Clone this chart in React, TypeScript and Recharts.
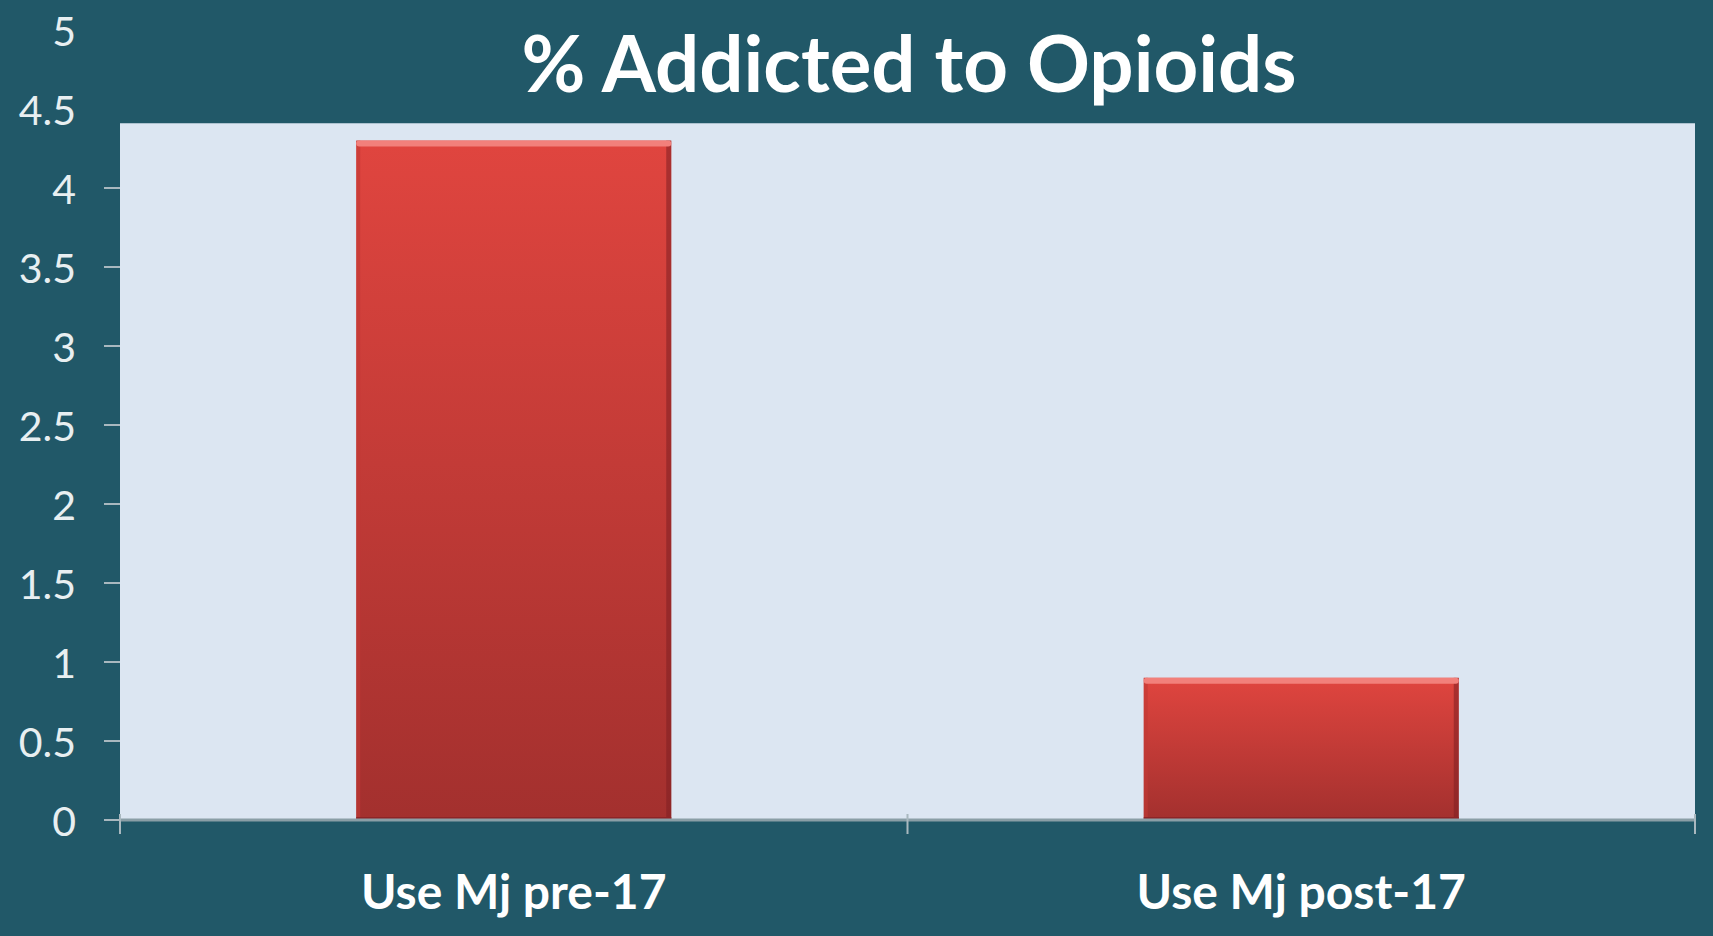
import { BarChart, Bar, XAxis, YAxis, ReferenceArea } from 'recharts';

const categories = ['Use Mj pre-17', 'Use Mj post-17'];
const addictedPct = [4.3, 0.9];
const yTicks = [0, 0.5, 1, 1.5, 2, 2.5, 3, 3.5, 4, 4.5, 5];

const data = categories.map((name, i) => ({ name, value: addictedPct[i] }));

const W = 1713;
const H = 936;
const BG = '#215868';
const PLOT_BG = '#dce6f2';
const PLOT_TOP_VALUE = 4.41; // grey panel stops a bit under 4.5
const MARGIN = { top: 30, right: 18, left: 0, bottom: 16 };
const Y_WIDTH = 120;
const X_HEIGHT = 100;
const PLOT_W = W - MARGIN.left - MARGIN.right - Y_WIDTH;
const HALF_BAND = PLOT_W / categories.length / 2;
const FONT = 'Lato, "Open Sans", sans-serif';

// y ticks: label plus a short tick line only inside the grey panel
// (x here is axis x minus the default 8px offset)
const YTick = (props: any) => {
  const { x, y, payload } = props;
  const showLine = payload.value <= PLOT_TOP_VALUE;
  return (
    <g>
      {showLine && <line x1={x - 8} x2={x + 8} y1={y} y2={y} stroke="#a9b8bf" strokeWidth={2} />}
      <text x={x - 36} y={y} textAnchor="end" dominantBaseline="central" fill="#e8eff1" fontSize={41} fontFamily={FONT}>
        {payload.value}
      </text>
    </g>
  );
};

// x ticks: tick marks sit on the category boundaries, labels at centre
const XTick = (props: any) => {
  const { x, y, payload, index } = props;
  const axisY = y - 14;
  return (
    <g>
      <line x1={x - HALF_BAND} x2={x - HALF_BAND} y1={axisY} y2={axisY + 20} stroke="#a9b8bf" strokeWidth={2} />
      {index === categories.length - 1 && (
        <line x1={x + HALF_BAND} x2={x + HALF_BAND} y1={axisY} y2={axisY + 20} stroke="#a9b8bf" strokeWidth={2} />
      )}
      <text x={x} y={axisY + 76} textAnchor="middle" dominantBaseline="central" fill="#ffffff" fontSize={48} fontWeight={700} fontFamily={FONT}>
        {payload.value}
      </text>
    </g>
  );
};

const BevelBar = (props: any) => {
  const { x, y, width, height } = props;
  if (!height || height <= 0) return null;
  return (
    <g>
      <rect x={x} y={y} width={width} height={height} fill="url(#barFill)" />
      <rect x={x + width - 5} y={y} width={5} height={height} fill="#7d1f22" opacity={0.55} />
      <rect x={x} y={y} width={4} height={height} fill="#c23a36" opacity={0.6} />
      <rect x={x} y={y} width={width} height={6} rx={3} fill="#f2807b" />
      <rect x={x} y={y + height - 3} width={width} height={3} fill="#8d2427" />
    </g>
  );
};

export default function App() {
  return (
    <div style={{ position: 'fixed', left: 0, top: 0, width: W, height: H, background: BG }}>
      <div
        style={{
          position: 'absolute',
          left: 0,
          width: W,
          top: 16,
          textAlign: 'center',
          color: '#ffffff',
          fontFamily: FONT,
          fontWeight: 700,
          fontSize: 78,
          lineHeight: '92px',
          paddingLeft: 105,
          boxSizing: 'border-box',
          zIndex: 2,
        }}
      >
        % Addicted to Opioids
      </div>
      <BarChart width={W} height={H} data={data} margin={MARGIN} barCategoryGap="30%">
        <defs>
          <linearGradient id="barFill" x1="0" y1="0" x2="0" y2="1">
            <stop offset="0%" stopColor="#e0453f" />
            <stop offset="100%" stopColor="#a3302e" />
          </linearGradient>
        </defs>
        <ReferenceArea y1={0} y2={PLOT_TOP_VALUE} fill={PLOT_BG} fillOpacity={1} stroke="none" ifOverflow="visible" />
        <XAxis
          dataKey="name"
          height={X_HEIGHT}
          axisLine={{ stroke: '#8a9ea6', strokeWidth: 3 }}
          tickLine={false}
          tick={<XTick />}
          interval={0}
        />
        <YAxis
          width={Y_WIDTH}
          domain={[0, 5]}
          ticks={yTicks}
          interval={0}
          axisLine={false}
          tickLine={false}
          tick={<YTick />}
        />
        <Bar dataKey="value" shape={<BevelBar />} isAnimationActive={false} />
      </BarChart>
    </div>
  );
}
